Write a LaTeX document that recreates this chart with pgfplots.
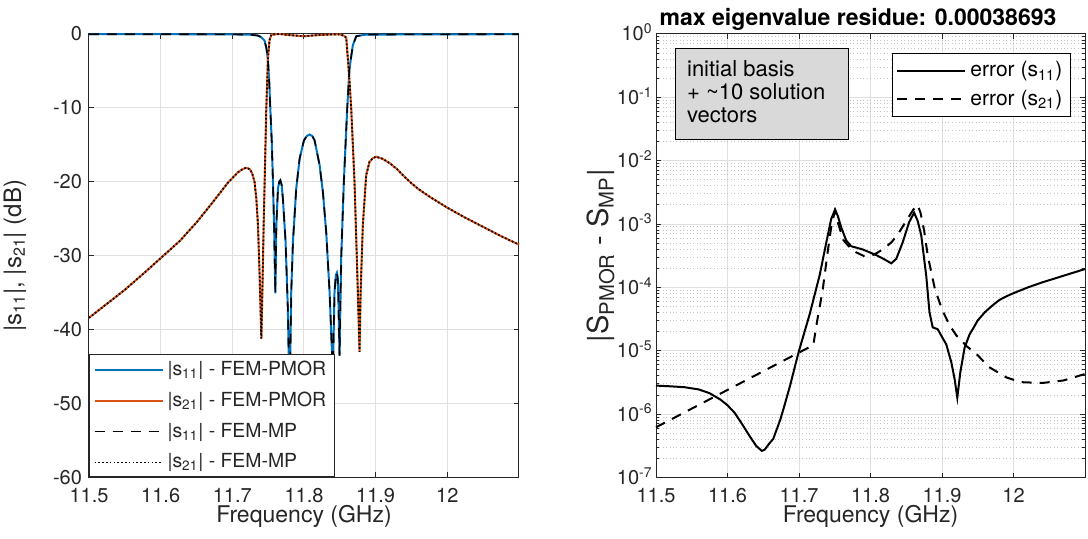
\documentclass[border=0pt]{standalone}
\usepackage{pgfplots}
\pgfplotsset{compat=1.18}
\usepackage{fontspec}
\setmainfont{TeX Gyre Heros}
\definecolor{mblue}{HTML}{0072BD}
\definecolor{mred}{HTML}{D95319}
\definecolor{axgray}{HTML}{262626}
\definecolor{gridc}{HTML}{DFDFDF}
\definecolor{mgridc}{HTML}{C4C4C4}
\definecolor{boxgray}{HTML}{D9D9D9}
\pgfplotsset{
  mstyle/.style={
    scale only axis,
    axis line style={color=axgray, line width=0.5pt},
    tick style={color=axgray, line width=0.5pt},
    major tick length=2.5pt, minor tick length=1.5pt,
    tick align=inside,
    tick label style={font=\fontsize{10}{12}\selectfont, text=axgray},
    label style={font=\fontsize{11.5}{13}\selectfont, text=axgray},
    grid style={color=gridc, line width=0.5pt},
    xmin=11.5, xmax=12.1,
    xtick={11.5,11.6,11.7,11.8,11.9,12},
    xticklabels={11.5,11.6,11.7,11.8,11.9,12},
    xticklabel style={anchor=base, yshift=-12.5pt},
    xlabel={Frequency (GHz)},
    xlabel style={at={(axis description cs:0.5,0)}, anchor=base, yshift=-22.5pt},
    xmajorgrids, ymajorgrids,
    clip=false,
    legend cell align=left,
    legend image code/.code={\draw[##1] (0pt,0pt) -- (34pt,0pt);},
  }
}
\begin{document}
\begin{tikzpicture}
\path[use as bounding box] (0,0) rectangle (544pt,269.5pt);
% ---------------- left axis ----------------
\begin{axis}[mstyle,
  at={(44.5pt,30.75pt)}, anchor=south west, width=215pt, height=221.75pt,
  ymin=-60, ymax=0,
  ytick={-60,-50,-40,-30,-20,-10,0},
  yticklabels={-60,-50,-40,-30,-20,-10,0},
  ylabel={|s\textsubscript{11}|, |s\textsubscript{21}| (dB)},
  ylabel style={at={(axis description cs:-0.172,0.5)}, anchor=center, font=\fontsize{12}{14}\selectfont},
  legend style={at={(0,0)}, anchor=south west, draw=axgray, line width=0.5pt, fill=white,
    font=\fontsize{9.7}{11}\selectfont, text=axgray, inner xsep=2pt, inner ysep=1pt,
    row sep=2.8pt},
]
\addplot[mblue, line width=1pt] table {
x y
11.5000 -0.03
11.6000 -0.03
11.7000 -0.05
11.7250 -0.1
11.7350 -0.2
11.7400 -0.4
11.7450 -0.9
11.7475 -1.9
11.7497 -3.5
11.7515 -6.5
11.7530 -10.07
11.7550 -14.5
11.7567 -20
11.7585 -27
11.7600 -35.1
11.7614 -25.9
11.7637 -20.9
11.7655 -20.0
11.7670 -19.8
11.7688 -20.4
11.7706 -22.3
11.7743 -28.1
11.7775 -37.2
11.7799 -50
11.7822 -34.9
11.7846 -28.1
11.7892 -20.9
11.7939 -16.85
11.7999 -14.4
11.8040 -13.8
11.8078 -13.6
11.8115 -13.8
11.8148 -14.4
11.8218 -17.75
11.8264 -21.4
11.8310 -26.8
11.8357 -34.9
11.8403 -46
11.8426 -34.9
11.8445 -32.6
11.8459 -32.3
11.8470 -33.0
11.8478 -34.9
11.8496 -43.5
11.8519 -30.4
11.8556 -20
11.8603 -10.07
11.8635 -4.65
11.8682 -1.5
11.8730 -0.3
11.8850 -0.1
11.9500 -0.05
12.1000 -0.03
};
\addlegendentry{|s\textsubscript{11}| - FEM-PMOR}
\addplot[mred, line width=1pt] table {
x y
11.5000 -38.4
11.5250 -36.5
11.5501 -34.6
11.5750 -32.5
11.6003 -30.3
11.6267 -28.0
11.6500 -25.5
11.6732 -22.7
11.6940 -20.1
11.7080 -18.7
11.7150 -18.25
11.7196 -18.1
11.7245 -18.3
11.7275 -18.8
11.7310 -20.0
11.7335 -22.3
11.7358 -25.9
11.7381 -32.7
11.7405 -41.2
11.7419 -35.0
11.7437 -25.9
11.7451 -20.0
11.7474 -10.1
11.7497 -3.3
11.7520 -0.8
11.7545 -0.1
11.7650 0
11.7800 -0.15
11.8000 -0.3
11.8200 -0.15
11.8400 -0.05
11.8500 -0.05
11.8560 -0.25
11.8589 -0.5
11.8612 -3.3
11.8636 -6.5
11.8659 -10.1
11.8705 -20.0
11.8752 -35.0
11.8775 -43.0
11.8790 -35.0
11.8821 -25.9
11.8868 -19.1
11.8914 -17.3
11.8961 -16.8
11.9007 -16.6
11.9100 -16.9
11.9200 -17.5
11.9300 -18.3
11.9400 -19.3
11.9500 -20.2
11.9600 -21.0
11.9750 -22.0
12.0000 -23.5
12.0250 -24.85
12.0500 -26.1
12.0750 -27.35
12.1000 -28.5
};
\addlegendentry{|s\textsubscript{21}| - FEM-PMOR}
\addplot[black, line width=0.8pt, dash pattern=on 5pt off 4pt] table {
x y
11.5000 -0.03
11.6000 -0.03
11.7000 -0.05
11.7250 -0.1
11.7350 -0.2
11.7400 -0.4
11.7450 -0.9
11.7475 -1.9
11.7497 -3.5
11.7515 -6.5
11.7530 -10.07
11.7550 -14.5
11.7567 -20
11.7585 -27
11.7600 -35.1
11.7614 -25.9
11.7637 -20.9
11.7655 -20.0
11.7670 -19.8
11.7688 -20.4
11.7706 -22.3
11.7743 -28.1
11.7775 -37.2
11.7799 -50
11.7822 -34.9
11.7846 -28.1
11.7892 -20.9
11.7939 -16.85
11.7999 -14.4
11.8040 -13.8
11.8078 -13.6
11.8115 -13.8
11.8148 -14.4
11.8218 -17.75
11.8264 -21.4
11.8310 -26.8
11.8357 -34.9
11.8403 -46
11.8426 -34.9
11.8445 -32.6
11.8459 -32.3
11.8470 -33.0
11.8478 -34.9
11.8496 -43.5
11.8519 -30.4
11.8556 -20
11.8603 -10.07
11.8635 -4.65
11.8682 -1.5
11.8730 -0.3
11.8850 -0.1
11.9500 -0.05
12.1000 -0.03
};
\addlegendentry{|s\textsubscript{11}| - FEM-MP}
\addplot[black, line width=0.9pt, dash pattern=on 0.8pt off 1.1pt] table {
x y
11.5000 -38.4
11.5250 -36.5
11.5501 -34.6
11.5750 -32.5
11.6003 -30.3
11.6267 -28.0
11.6500 -25.5
11.6732 -22.7
11.6940 -20.1
11.7080 -18.7
11.7150 -18.25
11.7196 -18.1
11.7245 -18.3
11.7275 -18.8
11.7310 -20.0
11.7335 -22.3
11.7358 -25.9
11.7381 -32.7
11.7405 -41.2
11.7419 -35.0
11.7437 -25.9
11.7451 -20.0
11.7474 -10.1
11.7497 -3.3
11.7520 -0.8
11.7545 -0.1
11.7650 0
11.7800 -0.15
11.8000 -0.3
11.8200 -0.15
11.8400 -0.05
11.8500 -0.05
11.8560 -0.25
11.8589 -0.5
11.8612 -3.3
11.8636 -6.5
11.8659 -10.1
11.8705 -20.0
11.8752 -35.0
11.8775 -43.0
11.8790 -35.0
11.8821 -25.9
11.8868 -19.1
11.8914 -17.3
11.8961 -16.8
11.9007 -16.6
11.9100 -16.9
11.9200 -17.5
11.9300 -18.3
11.9400 -19.3
11.9500 -20.2
11.9600 -21.0
11.9750 -22.0
12.0000 -23.5
12.0250 -24.85
12.0500 -26.1
12.0750 -27.35
12.1000 -28.5
};
\addlegendentry{|s\textsubscript{21}| - FEM-MP}
\end{axis}
% ---------------- right axis ----------------
\begin{axis}[mstyle,
  at={(328pt,30.75pt)}, anchor=south west, width=214.5pt, height=221.75pt,
  ymode=log, ymin=1e-7, ymax=1,
  ytick={1e-7,1e-6,1e-5,1e-4,1e-3,1e-2,1e-1,1},
  yticklabels={10\textsuperscript{-7},10\textsuperscript{-6},10\textsuperscript{-5},10\textsuperscript{-4},10\textsuperscript{-3},10\textsuperscript{-2},10\textsuperscript{-1},10\textsuperscript{0}},
  minor ytick={2e-7,3e-7,4e-7,5e-7,6e-7,7e-7,8e-7,9e-7,
    2e-6,3e-6,4e-6,5e-6,6e-6,7e-6,8e-6,9e-6,
    2e-5,3e-5,4e-5,5e-5,6e-5,7e-5,8e-5,9e-5,
    2e-4,3e-4,4e-4,5e-4,6e-4,7e-4,8e-4,9e-4,
    2e-3,3e-3,4e-3,5e-3,6e-3,7e-3,8e-3,9e-3,
    2e-2,3e-2,4e-2,5e-2,6e-2,7e-2,8e-2,9e-2,
    2e-1,3e-1,4e-1,5e-1,6e-1,7e-1,8e-1,9e-1},
  yminorgrids,
  minor grid style={color=mgridc, line width=0.5pt, dash pattern=on 0.5pt off 1.2pt},
  yticklabel style={anchor=base east, yshift=-3.5pt, inner xsep=1.5pt},
  ylabel={|S\textsubscript{PMOR} - S\textsubscript{MP}|},
  ylabel style={at={(axis description cs:-0.128,0.5)}, anchor=center, font=\fontsize{14.5}{16}\selectfont},
  legend style={at={(0.967,0.958)}, anchor=north east, draw=black, line width=0.5pt, fill=white,
    font=\fontsize{10.5}{12}\selectfont, text=black, inner xsep=2pt, inner ysep=2.2pt,
    row sep=1pt},
]
\draw[black, line width=0.5pt, fill=boxgray] (rel axis cs:0.0466,0.7613) rectangle (rel axis cs:0.4476,0.9678);
\node[anchor=north west, inner sep=0pt, align=left, font=\fontsize{11}{11.5}\selectfont, text=black]
  at (rel axis cs:0.0716,0.9414) {initial basis\\+ \textasciitilde10 solution\\vectors};
\node[anchor=base, inner sep=0pt, font=\bfseries\fontsize{11.5}{13}\selectfont, text=black, yshift=4pt]
  at (rel axis cs:0.471,1) {max eigenvalue residue: 0.00038693};
\addplot[black, line width=1pt] table {
x y
11.5000 2.82e-6
11.5200 2.75e-6
11.5400 2.66e-6
11.5600 2.45e-6
11.5750 2.14e-6
11.5900 1.70e-6
11.6000 1.38e-6
11.6100 1.05e-6
11.6200 7.08e-7
11.6300 4.68e-7
11.6400 3.16e-7
11.6480 2.63e-7
11.6520 2.75e-7
11.6580 3.39e-7
11.6640 4.07e-7
11.6740 8.30e-7
11.6800 1.41e-6
11.6875 2.82e-6
11.6970 7.41e-6
11.7000 1.00e-5
11.7150 3.80e-5
11.7290 1.58e-4
11.7380 5.00e-4
11.7450 1.20e-3
11.7505 1.70e-3
11.7545 1.32e-3
11.7590 8.90e-4
11.7660 5.50e-4
11.7730 4.47e-4
11.7890 3.98e-4
11.8080 3.24e-4
11.8200 2.75e-4
11.8290 2.40e-4
11.8360 2.82e-4
11.8450 5.13e-4
11.8540 1.07e-3
11.8610 1.51e-3
11.8660 1.12e-3
11.8710 6.60e-4
11.8780 1.51e-4
11.8825 4.07e-5
11.8870 2.34e-5
11.8940 2.19e-5
11.9010 1.58e-5
11.9060 1.26e-5
11.9130 6.60e-6
11.9177 3.55e-6
11.9214 1.82e-6
11.9256 4.57e-6
11.9316 1.12e-5
11.9386 1.82e-5
11.9450 2.40e-5
11.9500 3.02e-5
11.9600 4.07e-5
11.9700 5.13e-5
11.9800 6.31e-5
11.9900 7.24e-5
12.0000 8.13e-5
12.0200 1.00e-4
12.0400 1.20e-4
12.0600 1.41e-4
12.0800 1.66e-4
12.1000 1.95e-4
};
\addlegendentry{error (s\textsubscript{11})}
\addplot[black, line width=1pt, dash pattern=on 5pt off 4pt] table {
x y
11.5000 6.2e-7
11.7200 1.23e-5
11.7250 2.8e-5
11.7330 8.9e-5
11.7400 3.55e-4
11.7450 8.9e-4
11.7500 1.58e-3
11.7550 1.0e-3
11.7620 5.6e-4
11.7750 3.8e-4
11.7900 3.16e-4
11.8000 3.1e-4
11.8100 3.55e-4
11.8200 4.2e-4
11.8300 5.25e-4
11.8400 7.4e-4
11.8500 1.12e-3
11.8600 1.7e-3
11.8660 2.0e-3
11.8700 1.5e-3
11.8750 7.9e-4
11.8800 3.2e-4
11.8900 9.5e-5
11.9000 4.5e-5
11.9100 2.6e-5
11.9200 1.75e-5
11.9350 1.17e-5
11.9500 8.5e-6
11.9650 5.6e-6
11.9900 3.8e-6
12.0100 3.2e-6
12.0400 3.1e-6
12.0700 3.4e-6
12.1000 4.3e-6
};
\addlegendentry{error (s\textsubscript{21})}
\end{axis}
\end{tikzpicture}
\end{document}
